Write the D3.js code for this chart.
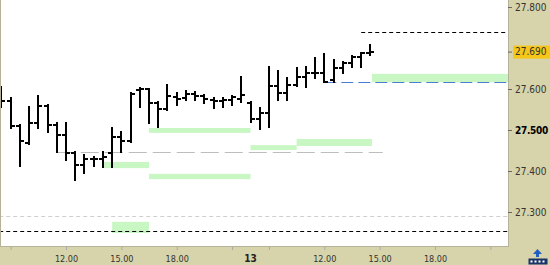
<!DOCTYPE html>
<html>

<head>
    <meta charset="utf-8">
    <title>Bars</title>
    <script src="https://cdn.jsdelivr.net/npm/d3@7"></script>
    <style>
        body { margin: 0; background: #d7d3aa; }
        svg { display: block; }
        text { font-family: 'DejaVu Sans Condensed', 'Liberation Sans', sans-serif; }
    </style>
</head>

<body>
    <svg width="550" height="265" id="mainsvg"></svg>
    <script>
        // 30 minute bars, "day hh:mm"
        const barTimes = [
            "12 08:30", "12 09:00", "12 09:30", "12 10:00", "12 10:30", "12 11:00", "12 11:30", "12 12:00", "12 12:30",
            "12 13:00", "12 13:30", "12 14:00", "12 14:30", "12 15:00", "12 15:30", "12 16:00", "12 16:30", "12 17:00",
            "12 17:30", "12 18:00", "12 18:30", "12 19:00", "12 19:30", "12 20:00", "12 20:30", "12 21:00", "12 21:30",
            "13 08:00", "13 08:30", "13 09:00", "13 09:30", "13 10:00", "13 10:30", "13 11:00", "13 11:30", "13 12:00",
            "13 12:30", "13 13:00", "13 13:30", "13 14:00", "13 14:30"];
        const opens = [
            27.585, 27.571, 27.510, 27.468, 27.517, 27.559, 27.512, 27.488, 27.444, 27.415, 27.429, 27.429, 27.444, 27.483,
            27.473, 27.598, 27.600, 27.566, 27.551, 27.580, 27.578, 27.588, 27.583, 27.573, 27.571, 27.573, 27.576,
            27.566, 27.527, 27.541, 27.607, 27.590, 27.610, 27.629, 27.639, 27.639, 27.622, 27.651, 27.663, 27.678, 27.688];
        const highs = [
            27.605, 27.578, 27.512, 27.556, 27.583, 27.561, 27.517, 27.517, 27.446, 27.439, 27.434, 27.446, 27.505, 27.495,
            27.590, 27.602, 27.601, 27.568, 27.610, 27.590, 27.595, 27.593, 27.585, 27.578, 27.578, 27.583, 27.629,
            27.568, 27.554, 27.654, 27.644, 27.627, 27.651, 27.654, 27.676, 27.685, 27.671, 27.666, 27.680, 27.688, 27.707];
        const lows = [
            27.556, 27.505, 27.412, 27.466, 27.505, 27.495, 27.446, 27.427, 27.378, 27.395, 27.412, 27.410, 27.410, 27.446,
            27.471, 27.556, 27.517, 27.507, 27.549, 27.561, 27.573, 27.573, 27.566, 27.554, 27.556, 27.561, 27.568,
            27.520, 27.502, 27.507, 27.573, 27.573, 27.607, 27.605, 27.627, 27.617, 27.617, 27.639, 27.654, 27.654, 27.683];
        const closes = [
            27.571, 27.510, 27.473, 27.517, 27.559, 27.512, 27.488, 27.444, 27.415, 27.429, 27.429, 27.434, 27.483, 27.473,
            27.588, 27.600, 27.566, 27.551, 27.583, 27.576, 27.588, 27.583, 27.576, 27.571, 27.573, 27.580, 27.585,
            27.527, 27.541, 27.607, 27.590, 27.610, 27.629, 27.639, 27.639, 27.617, 27.651, 27.663, 27.678, 27.688, 27.690];
        const lastPrice = 27.690;

        // green zones
        const zoneStarts = ["12 14:00", "12 14:30", "12 16:30", "12 16:30", "13 08:00", "13 10:30", "13 14:35"];
        const zoneEnds = ["12 16:30", "12 16:30", "13 08:00", "13 08:00", "13 10:30", "13 14:35", "13 22:00"];
        const zoneLows = [27.407, 27.249, 27.493, 27.380, 27.451, 27.461, 27.617];
        const zoneHighs = [27.422, 27.276, 27.505, 27.393, 27.463, 27.478, 27.637];

        // horizontal levels
        const levelPrices = [27.739, 27.617, 27.446, 27.290, 27.254];
        const levelStarts = ["13 14:00", "13 12:00", "12 11:30", "12 08:00", "12 08:00"];
        const levelEnds = ["13 22:00", "13 22:00", "13 15:10", "13 22:00", "13 22:00"];
        const levelKinds = ["black", "blue", "grey", "light", "black"];

        const priceTicks = [27.3, 27.4, 27.5, 27.6, 27.8];
        const timeTicks = ["12 09:00", "12 12:00", "12 15:00", "12 18:00", "12 21:00",
            "13 09:00", "13 12:00", "13 15:00", "13 18:00", "13 21:00"];
        const timeLabels = ["", "12.00", "15.00", "18.00", "", "", "12.00", "15.00", "18.00", ""];
        const dayLabel = { time: "13 08:00", text: "13" };

        const levelStyle = {
            black: { stroke: '#000', dash: '4,3' },
            blue: { stroke: '#4a7fd0', dash: '12,5' },
            grey: { stroke: '#bdbdbd', dash: '18,6' },
            light: { stroke: '#cfcfcf', dash: '4,3' }
        };

        const svg = d3.select('svg');
        const plotW = 508, plotH = 247;

        // session hours: 08:00 - 22:00 each day, no gap between days
        const sessionHour = s => {
            const [d, hm] = s.split(' ');
            const [h, m] = hm.split(':').map(Number);
            return (+d - 12) * 14 + h + m / 60 - 8;
        };
        const x = d3.scaleLinear().domain([0, 24]).range([-7.8, 435]);
        const y = d3.scaleLinear().domain([27.3, 27.8]).range([212, 7]);

        const bars = barTimes.map((t, i) => ({ t: sessionHour(t), o: opens[i], h: highs[i], l: lows[i], c: closes[i] }));
        const zones = zoneStarts.map((s, i) => ({ s: sessionHour(s), e: sessionHour(zoneEnds[i]), lo: zoneLows[i], hi: zoneHighs[i] }));
        const levels = levelPrices.map((p, i) => ({ p, s: sessionHour(levelStarts[i]), e: sessionHour(levelEnds[i]), kind: levelKinds[i] }));

        svg.append('clipPath').attr('id', 'plotclip').append('rect').attr('width', plotW).attr('height', plotH);
        svg.append('rect').attr('width', plotW).attr('height', plotH).attr('fill', '#fff');

        const plot = svg.append('g').attr('clip-path', 'url(#plotclip)');

        plot.selectAll('.zone').data(zones).join('rect').attr('class', 'zone')
            .attr('x', d => x(d.s)).attr('width', d => x(d.e) - x(d.s))
            .attr('y', d => y(d.hi)).attr('height', d => y(d.lo) - y(d.hi))
            .attr('fill', '#c8f7c3');

        plot.selectAll('.level').data(levels).join('line').attr('class', 'level')
            .attr('x1', d => x(d.s)).attr('x2', d => x(d.e))
            .attr('y1', d => Math.round(y(d.p)) + 0.5).attr('y2', d => Math.round(y(d.p)) + 0.5)
            .attr('stroke', d => levelStyle[d.kind].stroke)
            .attr('stroke-dasharray', d => levelStyle[d.kind].dash).attr('stroke-width', 1);

        const barG = plot.append('g').attr('stroke', '#000').attr('stroke-width', 2).attr('shape-rendering', 'crispEdges');
        barG.selectAll('.hl').data(bars).join('line').attr('class', 'hl')
            .attr('x1', d => x(d.t)).attr('x2', d => x(d.t)).attr('y1', d => y(d.h) - 1).attr('y2', d => y(d.l) + 1);
        barG.selectAll('.op').data(bars).join('line').attr('class', 'op')
            .attr('x1', d => x(d.t) - 4).attr('x2', d => x(d.t)).attr('y1', d => y(d.o)).attr('y2', d => y(d.o));
        barG.selectAll('.cl').data(bars).join('line').attr('class', 'cl')
            .attr('x1', d => x(d.t)).attr('x2', d => x(d.t) + 4).attr('y1', d => y(d.c)).attr('y2', d => y(d.c));

        svg.append('rect').attr('x', 0.5).attr('y', -1).attr('width', plotW).attr('height', plotH + 0.5)
            .attr('fill', 'none').attr('stroke', '#b5b29a');

        // right price axis
        const yAxis = svg.append('g').attr('transform', `translate(${plotW},0)`)
            .call(d3.axisRight(y).tickValues(priceTicks).tickFormat(d3.format('.3f')).tickSize(4).tickPadding(3));
        yAxis.select('.domain').remove();
        yAxis.selectAll('line').attr('stroke', '#666');
        yAxis.selectAll('text').attr('font-size', 10)
            .attr('font-weight', d => d === 27.5 ? 'bold' : 'normal')
            .attr('letter-spacing', d => d === 27.5 ? -0.3 : 0)
            .attr('fill', d => d === 27.5 ? '#000' : '#333');

        const lp = svg.append('g').attr('transform', `translate(${plotW},${y(lastPrice)})`);
        lp.append('line').attr('x1', 0).attr('x2', 4).attr('stroke', '#666');
        lp.append('rect').attr('x', 5).attr('y', -6.5).attr('width', 37).attr('height', 13).attr('fill', '#f6c719');
        lp.append('text').attr('x', 7).attr('dy', '0.32em').attr('font-size', 10).attr('fill', '#333')
            .text(d3.format('.3f')(lastPrice));

        // bottom time axis
        const xAxis = svg.append('g').attr('transform', `translate(0,${plotH})`)
            .call(d3.axisBottom(x).tickValues(timeTicks.map(sessionHour))
                .tickFormat((d, i) => timeLabels[i]).tickSize(3).tickPadding(3));
        xAxis.select('.domain').remove();
        xAxis.selectAll('line').attr('stroke', '#aaa');
        xAxis.selectAll('text').attr('font-size', 9).attr('fill', '#333').attr('y', 15).attr('dy', 0);

        svg.append('text').attr('x', x(sessionHour(dayLabel.time))).attr('y', plotH + 15)
            .attr('text-anchor', 'middle').attr('font-size', 10).attr('font-weight', 'bold').attr('fill', '#222')
            .text(dayLabel.text);

        // small toolbar icon in the corner
        const icon = svg.append('g').attr('transform', 'translate(528,249)');
        icon.append('path').attr('d', 'M9.5 0 L14 5 L11 5 L11 8 L8 8 L8 5 L5 5 Z').attr('fill', '#1f5fc4');
        icon.append('rect').attr('x', 0.5).attr('y', 9.5).attr('width', 19).attr('height', 6).attr('fill', '#1b3468');
        icon.selectAll('.dot').data([3, 7, 11, 15]).join('rect').attr('class', 'dot')
            .attr('x', d => d - 0.5).attr('y', 11.5).attr('width', 2).attr('height', 2).attr('fill', '#fff');
    </script>
</body>

</html>
